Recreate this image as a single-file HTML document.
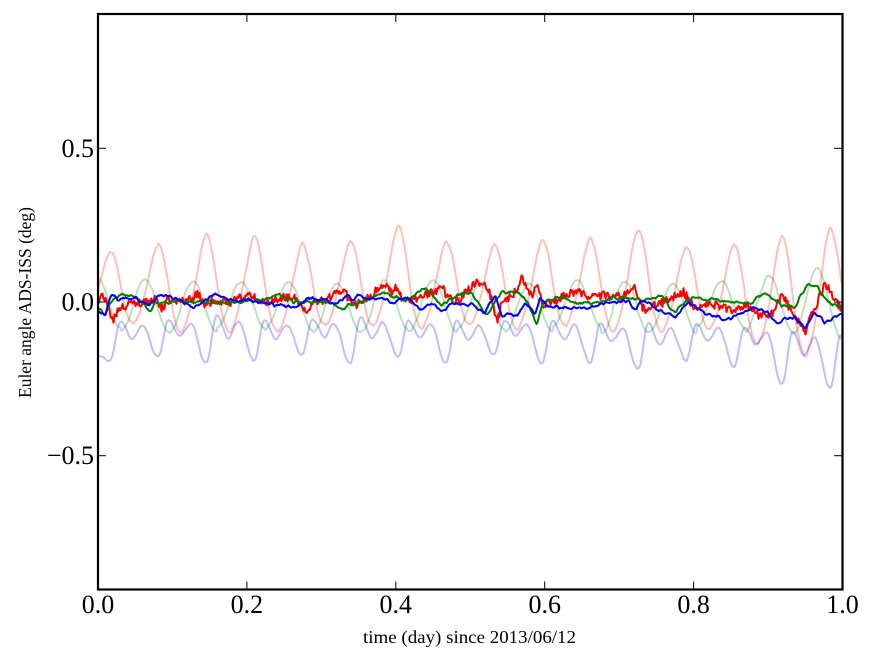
<!DOCTYPE html>
<html><head><meta charset="utf-8">
<style>
html,body{margin:0;padding:0;background:#fff;}
svg{display:block;}
text{font-family:"Liberation Serif","Times New Roman",serif;fill:#000;}
</style></head>
<body>
<svg id="s" width="875" height="662" viewBox="0 0 875 662" xmlns="http://www.w3.org/2000/svg">
<defs><clipPath id="c"><rect x="98" y="14" width="744.5" height="575.5"/></clipPath></defs>
<rect width="875" height="662" fill="#fff"/>
<g id="data" clip-path="url(#c)" fill="none" stroke-width="2" stroke-linejoin="round" stroke-linecap="round"></g>
<g stroke="#000" stroke-width="1">
<line x1="98" y1="589.5" x2="98" y2="581.5"/><line x1="246.9" y1="589.5" x2="246.9" y2="581.5"/><line x1="395.8" y1="589.5" x2="395.8" y2="581.5"/><line x1="544.7" y1="589.5" x2="544.7" y2="581.5"/><line x1="693.6" y1="589.5" x2="693.6" y2="581.5"/><line x1="842.5" y1="589.5" x2="842.5" y2="581.5"/>
<line x1="98" y1="14" x2="98" y2="22"/><line x1="246.9" y1="14" x2="246.9" y2="22"/><line x1="395.8" y1="14" x2="395.8" y2="22"/><line x1="544.7" y1="14" x2="544.7" y2="22"/><line x1="693.6" y1="14" x2="693.6" y2="22"/><line x1="842.5" y1="14" x2="842.5" y2="22"/>
<line x1="98" y1="148.3" x2="106" y2="148.3"/><line x1="98" y1="302" x2="106" y2="302"/><line x1="98" y1="455.7" x2="106" y2="455.7"/>
<line x1="842" y1="148.3" x2="834" y2="148.3"/><line x1="842" y1="302" x2="834" y2="302"/><line x1="842" y1="455.7" x2="834" y2="455.7"/>
</g>
<rect x="98" y="14" width="744.5" height="575.5" fill="none" stroke="#000" stroke-width="2.2"/>
<g font-size="26">
<text x="94" y="156.8" text-anchor="end">0.5</text>
<text x="94" y="310.5" text-anchor="end">0.0</text>
<text x="94" y="464.2" text-anchor="end">−0.5</text>
<text x="98" y="613" text-anchor="middle">0.0</text>
<text x="246.9" y="613" text-anchor="middle">0.2</text>
<text x="395.8" y="613" text-anchor="middle">0.4</text>
<text x="544.7" y="613" text-anchor="middle">0.6</text>
<text x="693.6" y="613" text-anchor="middle">0.8</text>
<text x="842.5" y="613" text-anchor="middle">1.0</text>
</g>
<text x="469.5" y="643" font-size="17.5" text-anchor="middle" textLength="213" lengthAdjust="spacingAndGlyphs">time (day) since 2013/06/12</text>
<text transform="translate(31,302.5) rotate(-90)" x="0" y="0" font-size="17.5" text-anchor="middle" textLength="191" lengthAdjust="spacingAndGlyphs">Euler angle ADS-ISS (deg)</text>
</svg>
<script>
(function(){
function rng(a){return function(){a|=0;a=a+0x6D2B79F5|0;var t=Math.imul(a^a>>>15,1|a);t=t+Math.imul(t^t>>>7,61|t)^t;return((t^t>>>14)>>>0)/4294967296;};}
function Y(v){return 302-v*307.4;}
function noise(seed,n,amp,win){var r=rng(seed),raw=[],out=[];for(var i=0;i<n;i++)raw.push((r()*2-1)*amp);
 for(var i=0;i<n;i++){var s=0,c=0;for(var j=-win;j<=win;j++){var k=i+j;if(k>=0&&k<n){s+=raw[k];c++;}}out.push(s/c);}return out;}
function interp(p,x){if(x<=p[0][0])return p[0][1];for(var i=1;i<p.length;i++){if(x<=p[i][0]){var a=p[i-1],b=p[i];var t=(x-a[0])/(b[0]-a[0]);return a[1]+(b[1]-a[1])*t;}}return p[p.length-1][1];}
var xs=[];for(var x=98.5;x<=842;x+=1)xs.push(x);
var N=xs.length;
function mk(ys,color,op){var d='';for(var i=0;i<N;i++){d+=(i?'L':'M')+xs[i].toFixed(1)+' '+ys[i].toFixed(2);}
 var p=document.createElementNS('http://www.w3.org/2000/svg','path');p.setAttribute('d',d);p.setAttribute('stroke',color);if(op<1)p.setAttribute('stroke-opacity',op);document.getElementById('data').appendChild(p);}
var TAU=Math.PI*2;
function sm(t){return (1-Math.cos(Math.PI*Math.max(0,Math.min(1,t))))/2;}
// light red
var RP=[0.165,0.19,0.225,0.215,0.19,0.2,0.25,0.2,0.19,0.2,0.21,0.24,0.18,0.19,0.22,0.245,0.2];
var RT=[-0.05,-0.07,-0.1,-0.1,-0.1,-0.08,-0.08,-0.09,-0.08,-0.09,-0.08,-0.1,-0.1,-0.09,-0.14,-0.18,-0.1];
function lr(x){var f=(x-110)/48;var k=Math.floor(f);var u=f-k;var tr=RT[k+1];var pk=u<0.5?(k>=0?RP[k]:0.1):RP[k+1];
 var d=Math.min(u,1-u);var tri=1-2*d;var rc=Math.pow((1+Math.cos(TAU*u))/2,1.5);var s=0.5*tri+0.5*rc;
 var sh=0.015*Math.sin(TAU*2*u)*(u<0.5?1:0);return tr+(pk-tr)*s+sh;}
// light green
var gr=rng(7),GV=[];for(var i=0;i<20;i++)GV.push((gr()*2-1)*0.012);
function lg(x){var a=x<700?0.078:0.078+(x-700)/142*0.037;var m=x<700?-0.012:-0.012+(x-700)/142*0.012;
 var k=Math.floor((x-97)/48+0.5);var c=Math.cos(TAU*(x-97)/48);return m+a*c+(c>0?GV[(k+2)%20]:GV[(k+9)%20]);}
// light blue: trough, peak, dip, second peak, trough
var BT=[-0.19,-0.18,-0.2,-0.19,-0.17,-0.2,-0.18,-0.2,-0.17,-0.2,-0.2,-0.22,-0.19,-0.21,-0.27,-0.28,-0.2];
var BP=[-0.065,-0.055,-0.045,-0.06,-0.06,-0.05,-0.06,-0.06,-0.06,-0.06,-0.07,-0.07,-0.07,-0.08,-0.095,-0.11,-0.1];
function lb(x){var f=(x-110)/48;var k=Math.floor(f);var u=f-k;
 if(k<0){return -0.11+(BT[0]+0.11)*sm(u);}
 var T=BT[k],P=BP[k],T2=BT[k+1];
 var D=P+0.45*(T-P),P2=P+0.12*(T-P);
 var kp=[[0,T],[0.22,P],[0.46,D],[0.68,P2],[1,T2]];
 for(var i=1;i<kp.length;i++){if(u<=kp[i][0]){var a=kp[i-1],b=kp[i];return a[1]+(b[1]-a[1])*sm((u-a[0])/(b[0]-a[0]));}}
 return T2;}
var nr=noise(11,N,3.2,2),ng=noise(12,N,2.6,2),nb=noise(13,N,2.6,2);
var a=[],b=[],c=[];
for(var i=0;i<N;i++){a.push(Y(lr(xs[i]))+nr[i]);b.push(Y(lg(xs[i]))+ng[i]);c.push(Y(lb(xs[i]))+nb[i]);}
mk(a,'#ff0000',0.25);mk(b,'#008000',0.25);mk(c,'#0000ff',0.25);
// dark
var R=[[98,305],[100,300],[102,293],[105,298],[108,305],[112,322],[116,314],[122,308],[132,302],[145,303],[155,300],[162,308],[168,300],[182,302],[198,295],[205,305],[215,300],[228,303],[240,298],[248,295],[258,300],[268,302],[282,297],[295,298],[300,303],[305,312],[315,302],[325,300],[335,295],[345,293],[355,305],[365,300],[375,292],[382,285],[392,293],[395,287],[400,295],[408,303],[418,298],[425,295],[435,292],[442,287],[448,298],[458,302],[466,292],[475,282],[485,285],[492,298],[497,323],[502,302],[512,295],[518,287],[522,277],[527,290],[532,298],[538,282],[542,305],[552,302],[565,295],[578,292],[592,297],[605,295],[615,297],[625,295],[635,288],[640,300],[645,313],[652,305],[662,303],[672,298],[683,292],[695,308],[705,303],[715,305],[725,308],[735,312],[748,305],[758,315],[765,312],[772,315],[782,295],[788,305],[795,318],[800,322],[805,332],[810,318],[815,308],[820,295],[825,283],[832,295],[838,305],[842,308]];
var G=[[98,308],[105,315],[110,305],[115,298],[120,295],[132,297],[142,303],[150,312],[155,303],[168,303],[180,301],[195,302],[210,302],[228,303],[245,301],[262,301],[278,295],[295,302],[310,301],[328,302],[342,310],[348,305],[358,304],[365,300],[385,293],[395,297],[405,300],[415,295],[425,287],[435,298],[442,305],[450,300],[458,295],[472,293],[480,305],[488,315],[495,302],[502,293],[518,292],[528,302],[533,315],[537,325],[541,310],[545,302],[558,297],[568,300],[578,303],[592,303],[605,300],[615,298],[628,298],[645,300],[655,298],[662,295],[668,305],[675,312],[685,302],[695,297],[705,299],[715,300],[735,302],[752,303],[758,295],[768,295],[775,300],[782,305],[795,308],[800,297],[808,285],[818,288],[822,295],[828,302],[835,305],[842,307]];
var B=[[98,313],[105,315],[108,305],[112,293],[118,300],[125,298],[135,297],[148,305],[155,300],[162,295],[172,297],[182,302],[195,307],[205,300],[212,296],[218,295],[228,300],[235,301],[248,300],[262,302],[275,305],[285,306],[295,308],[302,303],[308,298],[322,300],[335,303],[342,300],[348,295],[352,300],[358,295],[368,300],[382,298],[392,303],[400,300],[408,298],[415,305],[422,310],[432,302],[442,312],[452,303],[462,304],[472,305],[485,313],[490,303],[495,295],[502,315],[510,314],[518,315],[525,302],[530,308],[535,315],[540,298],[546,305],[552,308],[565,307],[578,308],[592,308],[605,303],[615,303],[628,300],[635,310],[642,300],[655,308],[665,313],[675,317],[688,303],[698,308],[705,313],[715,316],[728,320],[742,313],[755,307],[768,313],[778,323],[788,318],[795,317],[800,322],[805,328],[810,318],[815,312],[825,323],[832,318],[842,315]];
var dr=noise(21,N,4.5,0),dg=noise(22,N,2.5,1),db=noise(23,N,2.5,1);
var ra=[],ga=[],ba=[];
for(var i=0;i<N;i++){ra.push(interp(R,xs[i])+dr[i]);ga.push(interp(G,xs[i])+dg[i]);ba.push(interp(B,xs[i])+db[i]);}
mk(ra,'#ff0000',1);mk(ga,'#008000',1);mk(ba,'#0000ff',1);
})();
</script>
</body></html>
